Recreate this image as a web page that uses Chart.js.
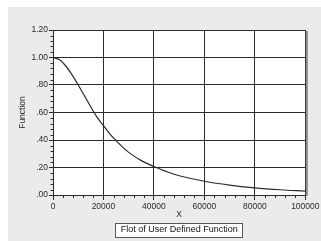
<!DOCTYPE html>
<html lang="en">
<head>
    <meta charset="UTF-8">
    <title>Plot of User Defined Function</title>
    <script src="https://cdn.jsdelivr.net/npm/chart.js"></script>
    <style>
        body { margin: 0; background: #fff; }
        #panel { position: absolute; left: 8px; top: 7px; width: 313px; height: 234px; background: #ebebed; }
        canvas { display: block; }
    </style>
</head>
<body>
    <div id="panel"><canvas id="fnChart" width="313" height="234"></canvas></div>

    <script>
        // values
        const xValues = [0, 2500, 5000, 7500, 10000, 12500, 15000, 17500, 20000, 22500, 25000, 27500, 30000, 35000, 40000, 45000, 50000, 60000, 70000, 80000, 90000, 100000];
        const fnValues = [1.00, 0.985, 0.94, 0.875, 0.80, 0.72, 0.64, 0.565, 0.505, 0.445, 0.395, 0.35, 0.31, 0.25, 0.207, 0.17, 0.14, 0.10, 0.072, 0.052, 0.038, 0.028];
        const xTicks = { min: 0, max: 100000, minor: 4000, major: 20000 };
        const yTicks = { min: 0, max: 1.2, minor: 0.04, major: 0.2 };
        const chartTitle = 'Flot of User Defined Function';
        const xTitle = 'X';
        const yTitle = 'Function';

        const ink = '#2b2b2b';
        const fontFamily = '"Liberation Sans", Arial, sans-serif';

        function isMajor(v, step) {
            const r = v / step;
            return Math.abs(r - Math.round(r)) < 1e-6;
        }

        function yLabel(v) {
            return v.toFixed(2).replace(/^0/, '');
        }

        function titleBox(chart) {
            const tb = chart.titleBlock;
            const ctx = chart.ctx;
            ctx.font = '9px ' + fontFamily;
            const w = ctx.measureText(chartTitle).width;
            const cx = (tb.left + tb.right) / 2;
            const cy = tb.top + 5.2 + 5.4;
            return { x: Math.round(cx - w / 2 - 6), y: Math.round(cy - 7.5), w: Math.round(w + 10), h: 14 };
        }

        const plotDecor = {
            id: 'plotDecor',
            beforeDraw(chart) {
                const { ctx, chartArea: a } = chart;
                ctx.save();
                ctx.fillStyle = '#fff';
                ctx.fillRect(a.left, a.top, a.right - a.left, a.bottom - a.top);
                const b = titleBox(chart);
                ctx.fillRect(b.x, b.y, b.w, b.h);
                ctx.restore();
            },
            afterDraw(chart) {
                const { ctx, chartArea: a, scales: { x, y } } = chart;
                ctx.save();
                // shadow on right side of plot
                ctx.strokeStyle = '#8a8a8a';
                ctx.lineWidth = 2;
                ctx.beginPath();
                ctx.moveTo(a.right + 1.5, a.top + 1);
                ctx.lineTo(a.right + 1.5, a.bottom + 1);
                ctx.stroke();

                // minor ticks
                ctx.strokeStyle = ink;
                ctx.lineWidth = 1;
                ctx.beginPath();
                x.ticks.forEach(t => {
                    if (isMajor(t.value, xTicks.major)) return;
                    const px = Math.round(x.getPixelForValue(t.value)) + 0.5;
                    ctx.moveTo(px, a.bottom);
                    ctx.lineTo(px, a.bottom + 3);
                });
                y.ticks.forEach(t => {
                    if (isMajor(t.value, yTicks.major)) return;
                    const py = Math.round(y.getPixelForValue(t.value)) + 0.5;
                    ctx.moveTo(a.left, py);
                    ctx.lineTo(a.left - 2.5, py);
                });
                ctx.stroke();

                // box round the title
                const b = titleBox(chart);
                ctx.strokeStyle = '#555';
                ctx.strokeRect(b.x + 0.5, b.y + 0.5, b.w, b.h);
                ctx.restore();
            }
        };

        Chart.defaults.font.family = fontFamily;
        Chart.defaults.color = ink;

        new Chart(document.getElementById('fnChart'), {
            type: 'line',
            data: {
                datasets: [{
                    data: xValues.map((v, i) => ({ x: v, y: fnValues[i] })),
                    borderColor: ink,
                    borderWidth: 1.2,
                    pointRadius: 0,
                    tension: 0.35,
                    fill: false
                }]
            },
            plugins: [plotDecor],
            options: {
                responsive: false,
                animation: false,
                layout: { padding: { left: 0, top: 23, right: 15, bottom: 0 } },
                plugins: {
                    legend: { display: false },
                    tooltip: { enabled: false },
                    title: {
                        display: true,
                        text: chartTitle,
                        position: 'bottom',
                        fullSize: false,
                        color: '#111',
                        font: { size: 9, weight: 'normal' },
                        padding: { top: 5.2, bottom: 5.6 }
                    }
                },
                scales: {
                    x: {
                        type: 'linear',
                        min: xTicks.min,
                        max: xTicks.max,
                        afterFit(s) { s.height = 24.4; },
                        border: { display: true, color: ink, width: 1 },
                        grid: {
                            color: c => isMajor(c.tick.value, xTicks.major) ? ink : 'rgba(0,0,0,0)',
                            tickColor: c => isMajor(c.tick.value, xTicks.major) ? ink : 'rgba(0,0,0,0)',
                            tickLength: 5,
                            lineWidth: 1
                        },
                        ticks: {
                            stepSize: xTicks.minor,
                            autoSkip: false,
                            maxRotation: 0,
                            padding: 1.5,
                            font: { size: 8.5 },
                            callback: v => isMajor(v, xTicks.major) ? String(v) : ''
                        },
                        title: { display: true, text: xTitle, font: { size: 8.5 }, padding: 0 }
                    },
                    y: {
                        min: yTicks.min,
                        max: yTicks.max,
                        afterFit(s) { s.width = 45; },
                        border: { display: true, color: ink, width: 1 },
                        grid: {
                            color: c => isMajor(c.tick.value, yTicks.major) ? ink : 'rgba(0,0,0,0)',
                            tickColor: c => isMajor(c.tick.value, yTicks.major) ? ink : 'rgba(0,0,0,0)',
                            tickLength: 4,
                            lineWidth: 1
                        },
                        ticks: {
                            stepSize: yTicks.minor,
                            autoSkip: false,
                            padding: 1,
                            font: { size: 8.5 },
                            callback: v => isMajor(v, yTicks.major) ? yLabel(v) : ''
                        },
                        title: { display: true, text: yTitle, font: { size: 8.5 }, padding: { top: 9.9, bottom: 0 } }
                    }
                }
            }
        });
    </script>
</body>
</html>
